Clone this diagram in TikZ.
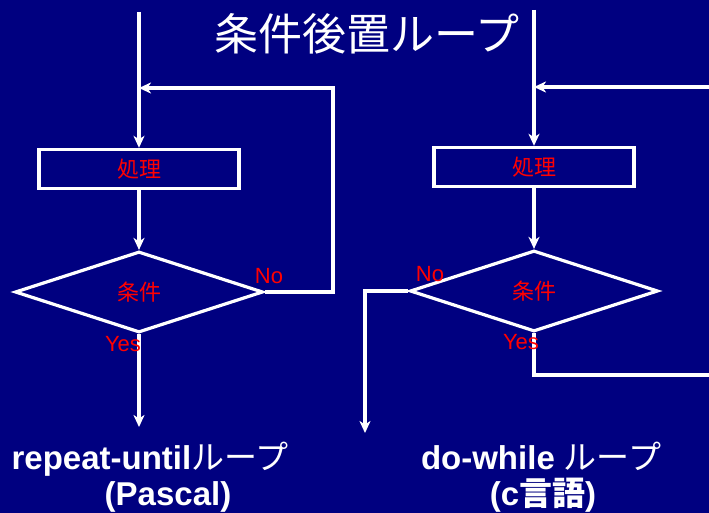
\documentclass[tikz,border=0pt]{standalone}
\usepackage{fontspec}
\usepackage{tikz}
\setmainfont{Liberation Sans}
\newfontfamily\cjk{Noto Sans CJK JP}
\usetikzlibrary{arrows.meta,shapes.geometric}
\definecolor{slidebg}{RGB}{0,0,128}

\begin{document}
\begin{tikzpicture}[x=1pt,y=-1pt,
    flow/.style={white,line width=3.2pt},
    arr/.style={flow,-{Stealth[length=12pt,width=11pt,inset=3.5pt]}},
    procbox/.style={draw=white,line width=3.4pt,rectangle,minimum width=200pt,minimum height=39pt,inner sep=0pt,text=red,font=\cjk\fontsize{22}{24}\selectfont},
    condbox/.style={draw=white,line width=3.2pt,diamond,minimum width=248pt,minimum height=81pt,inner sep=0pt,text=red,font=\cjk\fontsize{22}{24}\selectfont},
    answer/.style={text=red,font=\fontsize{22}{24}\selectfont,inner sep=0pt},
    caption/.style={text=white,anchor=base,inner sep=0pt,font=\fontsize{33}{36}\selectfont}]
    \fill[slidebg] (0,0) rectangle (709,513);
    \useasboundingbox (0,0) rectangle (709,513);
    \node[text=white,inner sep=0pt,font=\cjk\fontsize{44}{48}\selectfont] (title) at (367,34) {条件後置ループ};
    % repeat-until
    \node[procbox] (work1) at (139,169) {処理};
    \node[condbox] (test1) at (139,292) {条件};
    \coordinate (start1) at (139,12);
    \coordinate (join1) at (139,88);
    \coordinate (back1) at (333,88);
    \coordinate (exit1) at (139,427);
    \draw[flow] (start1) -- (join1);
    \draw[arr] (join1) -- (work1.north);
    \draw[arr] (work1.south) -- (test1.north);
    \draw[arr] (test1.east) -| (back1) -- (join1);
    \draw[arr] (test1.south) -- (exit1);
    \node[answer] (no1) at (269,276) {No};
    \node[answer] (yes1) at (123,344) {Yes};
    \node[caption] (name1) at (150,469) {\bfseries repeat-until{\cjk\mdseries ループ}};
    \node[caption] (lang1) at (168,505) {\bfseries (Pascal)};
    % do-while
    \node[procbox] (work2) at (534,167) {処理};
    \node[condbox] (test2) at (534,291) {条件};
    \coordinate (start2) at (534,10);
    \coordinate (join2) at (534,87);
    \coordinate (back2) at (709,87);
    \coordinate (turn2) at (365,291);
    \coordinate (exit2) at (365,433);
    \coordinate (out2) at (709,375);
    \draw[flow] (start2) -- (join2);
    \draw[arr] (back2) -- (join2);
    \draw[arr] (join2) -- (work2.north);
    \draw[arr] (work2.south) -- (test2.north);
    \draw[arr] (test2.west) -- (turn2) -- (exit2);
    \draw[flow] (test2.south) |- (out2);
    \node[answer] (no2) at (430,274) {No};
    \node[answer] (yes2) at (521,342) {Yes};
    \node[caption] (name2) at (541,469) {\bfseries do-while {\cjk\mdseries ループ}};
    \node[caption] (lang2) at (543,505) {\bfseries ({c}{\cjk 言語})};
\end{tikzpicture}
\end{document}
